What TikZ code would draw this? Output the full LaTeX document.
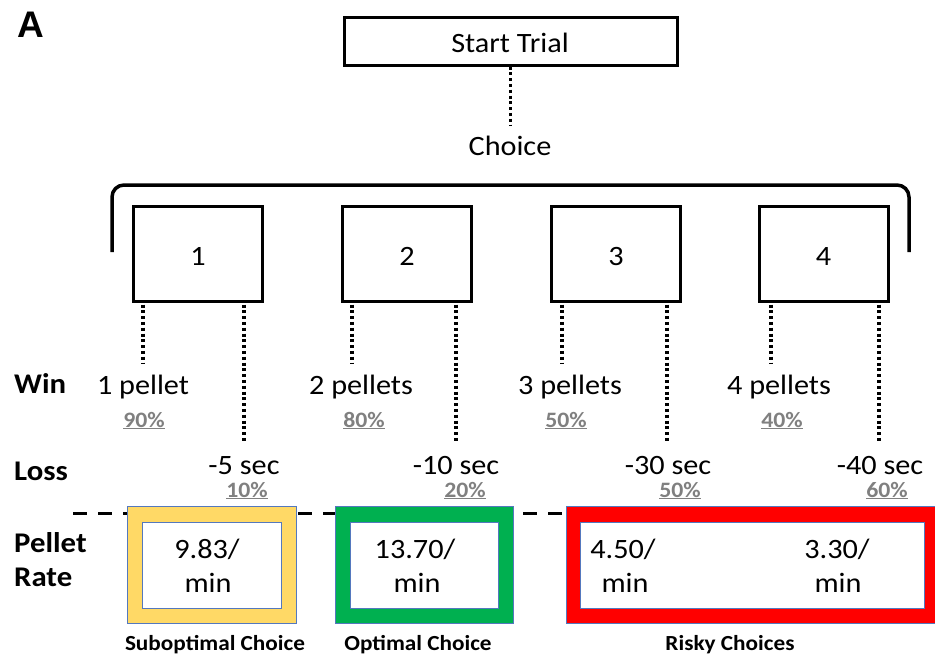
\documentclass[tikz,border=0pt]{standalone}
\usepackage{fontspec}
\setmainfont[FakeStretch=1.08]{Carlito}
\newfontfamily\arialfont{Liberation Sans}
\definecolor{subyel}{RGB}{255,217,102}
\definecolor{optgreen}{RGB}{0,176,80}
\definecolor{riskred}{RGB}{255,0,0}
\definecolor{edgeblue}{RGB}{84,120,190}
\definecolor{pctgray}{RGB}{128,128,128}
\begin{document}
\begin{tikzpicture}[x=1pt,y=-1pt,
  boxnode/.style={draw,line width=3pt,inner sep=0pt},
  main/.style={inner sep=0pt,anchor=base,font=\fontsize{28}{30}\selectfont},
  lbl/.style={inner sep=0pt,anchor=base west,font=\fontsize{28.5}{34}\selectfont\bfseries},
  pct/.style={inner sep=0pt,anchor=base,text=pctgray,font=\fontsize{22}{24}\selectfont\bfseries},
  captxt/.style={inner sep=0pt,anchor=base,font=\fontsize{21.5}{23}\selectfont\bfseries},
  dotline/.style={line width=3.3pt,dash pattern=on 3pt off 2.8pt},
  dashline/.style={line width=3pt,dash pattern=on 14pt off 11pt}]
\useasboundingbox (0,0) rectangle (935,654);

% panel letter
\node[inner sep=0pt,anchor=base,font=\fontsize{37}{40}\selectfont\arialfont\bfseries] (A) at (31,37) {A};

% start trial
\node[boxnode,minimum width=333pt,minimum height=48pt] (start) at (510.5,41) {};
\node[main] (starttxt) at (510,52) {Start Trial};
\node[main] (choice) at (510,155) {Choice};
\coordinate (chtop) at (510.5,126);
\draw[dotline] (start.south) -- (chtop);

% brace
\draw[line width=3.5pt] (112,252) -- (112,197) to[out=90,in=180] (124,185) -- (897,185) to[out=0,in=90] (909,197) -- (909,252);

% choice boxes
\foreach \i/\x in {1/198,2/407,3/616,4/823.5}{
  \node[boxnode,minimum width=129pt,minimum height=95pt] (b\i) at (\x,253.5) {};
  \node[main] (n\i) at (\x,265) {\i};
}

% row labels
\node[lbl] (win) at (14,393) {Win};
\node[lbl] (loss) at (14,480) {Loss};
\node[lbl,align=left,anchor=north west] (rate) at (14,532) {Pellet\\Rate};

% win outcomes
\node[main] (w1) at (143,394) {1 pellet};
\node[main] (w2) at (361,394) {2 pellets};
\node[main] (w3) at (570,394) {3 pellets};
\node[main] (w4) at (779,394) {4 pellets};
\node[pct] (wp1) at (144,427) {\underline{90\%}};
\node[pct] (wp2) at (364,427) {\underline{80\%}};
\node[pct] (wp3) at (566,427) {\underline{50\%}};
\node[pct] (wp4) at (782,427) {\underline{40\%}};

% loss outcomes
\node[main] (l1) at (244,474) {-5 sec};
\node[main] (l2) at (456,474) {-10 sec};
\node[main] (l3) at (668,474) {-30 sec};
\node[main] (l4) at (880,474) {-40 sec};
\node[pct] (lp1) at (247,497) {\underline{10\%}};
\node[pct] (lp2) at (465,497) {\underline{20\%}};
\node[pct] (lp3) at (680,497) {\underline{50\%}};
\node[pct] (lp4) at (887,497) {\underline{60\%}};

% dotted connectors
\coordinate (wt1) at (143,364);
\coordinate (wt2) at (352,364);
\coordinate (wt3) at (562,364);
\coordinate (wt4) at (771,364);
\coordinate (lt1) at (244,443);
\coordinate (lt2) at (456,443);
\coordinate (lt3) at (667,443);
\coordinate (lt4) at (879,443);
\foreach \i in {1,2,3,4}{
  \draw[dotline] (b\i.south -| wt\i) ++(0,2) -- (wt\i);
  \draw[dotline] (b\i.south -| lt\i) ++(0,2) -- (lt\i);
}

% dashed baseline
\coordinate (dl) at (73,513);
\coordinate (dr) at (568,513);
\draw[dashline] (dl) -- (dr);

% pellet rate boxes
\path[fill=subyel,draw=edgeblue,line width=0.8pt] (127,506) rectangle (296,623);
\path[fill=white,draw=edgeblue,line width=0.8pt] (142,522) rectangle (281,608);
\path[fill=optgreen,draw=edgeblue,line width=0.8pt] (335,506) rectangle (513,623);
\path[fill=white,draw=edgeblue,line width=0.8pt] (350,522) rectangle (498,608);
\path[fill=riskred,draw=edgeblue,line width=0.8pt] (566,506) rectangle (936,623);
\path[fill=white,draw=edgeblue,line width=0.8pt] (580,522) rectangle (924,608);

\node[main] (r1a) at (207,558) {9.83/};
\node[main] (r1b) at (208,592) {min};
\node[main] (r2a) at (415,558) {13.70/};
\node[main] (r2b) at (417,592) {min};
\node[main] (r3a) at (623,558) {4.50/};
\node[main] (r3b) at (625,592) {min};
\node[main] (r4a) at (837,558) {3.30/};
\node[main] (r4b) at (838,592) {min};

% captions
\node[captxt] (c1) at (215,650) {Suboptimal Choice};
\node[captxt] (c2) at (418,650) {Optimal Choice};
\node[captxt] (c3) at (730,650) {Risky Choices};
\end{tikzpicture}
\end{document}
